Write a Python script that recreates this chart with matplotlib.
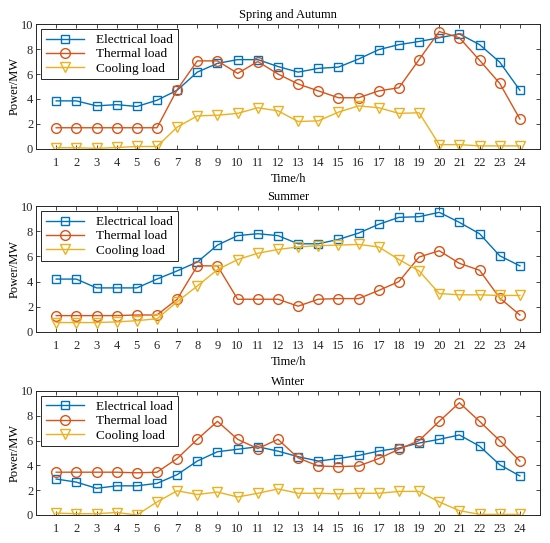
import matplotlib.pyplot as plt

hours = list(range(1, 25))
series_names = ['Electrical load', 'Thermal load', 'Cooling load']

# Spring and Autumn
spring_elec = [3.85, 3.85, 3.45, 3.55, 3.4, 3.9, 4.7, 6.15, 6.85, 7.15, 7.15, 6.6, 6.15,
               6.45, 6.55, 7.2, 7.95, 8.35, 8.6, 8.9, 9.2, 8.35, 6.95, 4.7]
spring_heat = [1.7, 1.7, 1.7, 1.7, 1.7, 1.7, 4.75, 7.05, 7.05, 6.05, 7.0, 6.0, 5.2,
               4.65, 4.1, 4.1, 4.65, 4.9, 7.15, 9.4, 8.9, 7.1, 5.25, 2.4]
spring_cool = [0.1, 0.1, 0.05, 0.12, 0.2, 0.2, 1.75, 2.65, 2.7, 2.85, 3.3, 3.05, 2.2,
               2.25, 2.95, 3.45, 3.3, 2.85, 2.9, 0.35, 0.35, 0.25, 0.25, 0.25]

# Summer
summer_elec = [4.2, 4.2, 3.5, 3.5, 3.5, 4.2, 4.85, 5.55, 6.9, 7.65, 7.8, 7.65, 7.0,
               7.0, 7.35, 7.85, 8.55, 9.1, 9.15, 9.5, 8.7, 7.8, 6.05, 5.25]
summer_heat = [1.3, 1.3, 1.3, 1.3, 1.35, 1.35, 2.6, 5.25, 5.25, 2.6, 2.6, 2.6, 2.05,
               2.6, 2.65, 2.65, 3.3, 4.0, 5.95, 6.45, 5.45, 4.9, 2.7, 1.35]
summer_cool = [0.75, 0.75, 0.75, 0.8, 0.9, 1.05, 2.4, 3.65, 4.95, 5.75, 6.25, 6.55, 6.75,
               6.85, 6.9, 6.95, 6.75, 5.75, 4.85, 3.05, 2.95, 2.95, 2.9, 2.9]

# Winter
winter_elec = [2.9, 2.65, 2.15, 2.35, 2.35, 2.55, 3.25, 4.35, 5.1, 5.3, 5.5, 5.15, 4.7,
               4.35, 4.55, 4.8, 5.15, 5.4, 5.8, 6.1, 6.45, 5.55, 4.05, 3.15]
winter_heat = [3.45, 3.45, 3.45, 3.45, 3.4, 3.45, 4.55, 6.1, 7.55, 6.1, 5.35, 6.1, 4.6,
               3.95, 3.9, 3.95, 4.55, 5.3, 6.0, 7.55, 9.05, 7.55, 6.0, 4.35]
winter_cool = [0.15, 0.1, 0.1, 0.2, 0.0, 1.05, 1.95, 1.65, 1.85, 1.45, 1.75, 2.1, 1.75,
               1.75, 1.7, 1.75, 1.75, 1.9, 1.9, 1.05, 0.35, 0.05, 0.05, 0.05]

seasons = [
    ('Spring and Autumn', spring_elec, spring_heat, spring_cool),
    ('Summer', summer_elec, summer_heat, summer_cool),
    ('Winter', winter_elec, winter_heat, winter_cool),
]

colors = ['#0072BD', '#D95319', '#EDB120']
markers = ['s', 'o', 'v']
msizes = [5.5, 7, 7]

plt.rcParams['font.family'] = ['Liberation Serif', 'DejaVu Serif']
plt.rcParams['font.size'] = 9

fig = plt.figure(figsize=(5.5, 5.43), dpi=100)
positions = [
    [0.0655, 0.7256, 0.9164, 0.2302],
    [0.0655, 0.3886, 0.9164, 0.2320],
    [0.0655, 0.0516, 0.9164, 0.2284],
]

for i, (title, elec, heat, cool) in enumerate(seasons):
    ax = fig.add_axes(positions[i])
    for vals, name, c, m, ms in zip([elec, heat, cool], series_names, colors, markers, msizes):
        ax.plot(hours, vals, color=c, marker=m, markersize=ms, markerfacecolor='none',
                markeredgewidth=1.0, linewidth=1.0, label=name)
    ax.set_xlim(0, 25)
    ax.set_ylim(0, 10)
    ax.set_xticks(hours)
    ax.set_yticks([0, 2, 4, 6, 8, 10])
    ax.tick_params(direction='in', top=True, right=True, length=3, width=0.6,
                   colors='#262626', labelsize=9)
    ax.tick_params(axis='x', pad=6)
    ax.tick_params(axis='y', pad=2)
    for sp in ax.spines.values():
        sp.set_linewidth(0.7)
        sp.set_color('#262626')
    ax.set_title(title, fontsize=9, pad=4)
    ax.set_ylabel('Power/MW', fontsize=9)
    ax.yaxis.set_label_coords(-0.03, 0.5)
    if i < 2:
        ax.set_xlabel('Time/h', fontsize=9, labelpad=3)
    leg = ax.legend(loc='upper left', fontsize=9.5, handlelength=2.9, handletextpad=0.9,
                    borderaxespad=0.4, borderpad=0.35, fancybox=False, framealpha=1,
                    edgecolor='#262626', labelspacing=0.15)
    leg.get_frame().set_linewidth(0.7)

fig.savefig('out.png', dpi=100)
